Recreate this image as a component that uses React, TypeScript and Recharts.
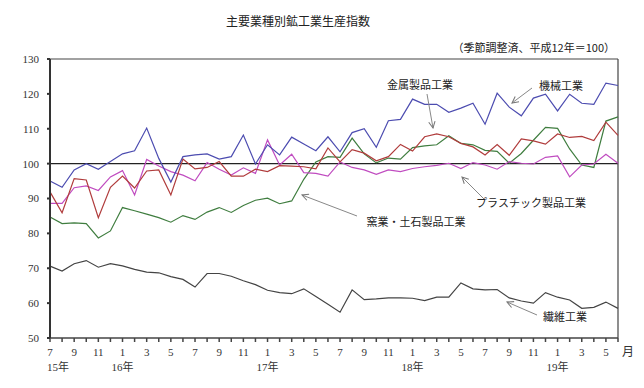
import { Line, LineChart, ReferenceLine, XAxis, YAxis } from "recharts";

// 15年7月 .. 19年6月
const months = [
  7, 8, 9, 10, 11, 12, 1, 2, 3, 4, 5, 6,
  7, 8, 9, 10, 11, 12, 1, 2, 3, 4, 5, 6,
  7, 8, 9, 10, 11, 12, 1, 2, 3, 4, 5, 6,
  7, 8, 9, 10, 11, 12, 1, 2, 3, 4, 5, 6,
];
const yearAt = [0, 6, 18, 30, 42];
const yearNames = ["15年", "16年", "17年", "18年", "19年"];
const yTicks = [50, 60, 70, 80, 90, 100, 110, 120, 130];

const machine = [
  95.0, 93.2, 98.2, 100.0, 98.4, 100.6, 102.8, 103.7, 110.2, 101.5, 94.7, 102.0,
  102.5, 102.8, 101.3, 102.0, 108.2, 99.9, 105.4, 102.5, 107.6, 105.6, 103.7, 107.7,
  103.4, 108.9, 110.0, 104.7, 112.3, 112.7, 118.5, 117.0, 117.0, 114.7, 115.9, 117.3,
  111.3, 120.2, 116.2, 113.7, 118.8, 119.9, 115.1, 119.9, 117.3, 117.0, 123.1, 122.4,
];
const metal = [
  91.9, 85.9, 95.7, 95.3, 84.5, 93.2, 96.4, 93.0, 97.9, 98.2, 91.0, 101.3,
  98.5, 98.9, 100.6, 96.4, 96.4, 98.4, 97.7, 99.4, 99.3, 99.1, 98.5, 104.5,
  100.5, 104.0, 103.0, 100.8, 102.0, 105.5, 103.6, 107.7, 108.5, 107.7, 105.8, 104.8,
  102.5, 105.5, 102.4, 107.1, 106.5, 105.6, 108.5, 107.5, 107.8, 106.6, 111.9, 108.1,
];
const plastic = [
  88.6, 88.6, 93.1, 93.6, 92.3, 96.2, 98.0, 91.0, 101.2, 99.3, 97.7, 96.7,
  95.1, 100.3, 98.4, 96.7, 98.8, 97.2, 106.8, 99.6, 102.7, 97.4, 97.2, 96.4,
  100.5, 98.9, 98.2, 96.9, 98.2, 97.7, 98.6, 99.1, 99.5, 100.1, 98.6, 100.3,
  99.6, 98.4, 100.6, 100.1, 99.9, 101.8, 102.2, 96.2, 99.6, 99.9, 102.7, 100.1,
];
const ceramic = [
  84.7, 82.8, 83.0, 82.8, 78.7, 80.7, 87.4, 86.5, 85.5, 84.5, 83.2, 85.1,
  84.0, 86.1, 87.4, 86.0, 88.0, 89.5, 90.1, 88.5, 89.3, 95.5, 100.5, 102.0,
  101.8, 107.3, 102.8, 100.2, 101.6, 101.3, 104.6, 105.1, 105.4, 108.0, 105.8, 105.4,
  103.8, 103.5, 100.1, 102.9, 106.7, 110.4, 110.1, 104.2, 99.6, 98.9, 112.2, 113.4,
];
const textile = [
  70.6, 69.2, 71.3, 72.2, 70.3, 71.3, 70.7, 69.7, 68.9, 68.7, 67.6, 66.8,
  64.6, 68.5, 68.5, 67.7, 66.4, 65.3, 63.7, 63.0, 62.7, 64.1, 61.9, 59.7,
  57.4, 63.8, 61.0, 61.2, 61.5, 61.5, 61.4, 60.7, 61.7, 61.7, 65.8, 64.1,
  63.8, 63.9, 61.5, 60.6, 60.0, 63.0, 61.7, 60.9, 58.5, 58.8, 60.3, 58.5,
];

const data = months.map((m, i) => ({
  i,
  m,
  machine: machine[i],
  metal: metal[i],
  plastic: plastic[i],
  ceramic: ceramic[i],
  textile: textile[i],
}));
const xTicks = data.map((d) => d.i);

const NUM_FONT = "'Liberation Serif', 'Noto Sans CJK JP', serif";
const JP_FONT = "'Noto Sans CJK JP', sans-serif";

function MonthTick(props: any) {
  const { x, y, payload } = props;
  const i = payload.value as number;
  const yi = yearAt.indexOf(i);
  return (
    <g fontFamily={NUM_FONT} fill="#333">
      {i % 2 === 0 && (
        <text x={x} y={y + 12} textAnchor="middle" fontSize={11} fill="#333">
          {months[i]}
        </text>
      )}
      {yi >= 0 && (
        <text x={i === 0 ? x + 8 : x} y={y + 27} textAnchor="middle" fontSize={11} fill="#333">
          {yearNames[yi]}
        </text>
      )}
      {i === months.length - 1 && (
        <text x={x + 10} y={y + 12} textAnchor="middle" fontSize={12} fontFamily={JP_FONT} fill="#333">
          月
        </text>
      )}
    </g>
  );
}

const notes = [
  { text: "金属製品工業", tx: 420, ty: 89, from: [427, 94], to: [433, 128] },
  { text: "機械工業", tx: 561, ty: 90, from: [532, 88], to: [512, 103] },
  { text: "プラスチック製品工業", tx: 531, ty: 207, from: [484, 199], to: [462, 177] },
  { text: "窯業・土石製品工業", tx: 416, ty: 226, from: [357, 216], to: [302, 195] },
  { text: "繊維工業", tx: 565, ty: 321, from: [537, 315], to: [507, 302] },
];

export default function App() {
  return (
    <div style={{ position: "absolute", left: 0, top: 0, width: 644, height: 388, background: "#fff" }}>
      <LineChart width={644} height={388} data={data} margin={{ top: 59, right: 26, bottom: 0, left: 0 }}>
        <XAxis
          dataKey="i"
          type="number"
          domain={[0, 47]}
          ticks={xTicks}
          interval={0}
          height={50}
          tickSize={4}
          tick={<MonthTick />}
          stroke="#444"
          strokeWidth={1.5}
        />
        <YAxis
          type="number"
          domain={[50, 130]}
          ticks={yTicks}
          width={50}
          tickSize={3}
          tickMargin={8}
          stroke="#333"
          strokeWidth={2}
          tick={{ fontSize: 11, fill: "#333", fontFamily: NUM_FONT }}
        />
        <ReferenceLine y={130} stroke="#444" strokeWidth={1.2} />
        <ReferenceLine x={47} stroke="#444" strokeWidth={1.2} />
        <ReferenceLine y={100} stroke="#222" strokeWidth={1.2} />
        <Line dataKey="textile" stroke="#444444" strokeWidth={1.2} dot={false} isAnimationActive={false} />
        <Line dataKey="ceramic" stroke="#3f7d3f" strokeWidth={1.2} dot={false} isAnimationActive={false} />
        <Line dataKey="plastic" stroke="#c04cc0" strokeWidth={1.2} dot={false} isAnimationActive={false} />
        <Line dataKey="metal" stroke="#b03c3c" strokeWidth={1.2} dot={false} isAnimationActive={false} />
        <Line dataKey="machine" stroke="#4c4cb0" strokeWidth={1.2} dot={false} isAnimationActive={false} />
      </LineChart>
      <svg width={644} height={388} style={{ position: "absolute", left: 0, top: 0, pointerEvents: "none" }}>
        <defs>
          <marker id="ah" viewBox="0 0 10 10" refX="9" refY="5" markerWidth="8" markerHeight="8" orient="auto">
            <path d="M1,1 L9,5 L1,9" fill="none" stroke="#777" strokeWidth="1.3" />
          </marker>
        </defs>
        <text x={298} y={26} textAnchor="middle" fontSize={12} fontFamily={JP_FONT} fill="#222">
          主要業種別鉱工業生産指数
        </text>
        <text x={615} y={52} textAnchor="end" fontSize={11} fontFamily={JP_FONT} fill="#222">
          （季節調整済、平成12年＝100）
        </text>
        {notes.map((n) => (
          <g key={n.text}>
            <line x1={n.from[0]} y1={n.from[1]} x2={n.to[0]} y2={n.to[1]} stroke="#888" strokeWidth={1} markerEnd="url(#ah)" />
            <text x={n.tx} y={n.ty} textAnchor="middle" fontSize={11} fontFamily={JP_FONT} fill="#222">
              {n.text}
            </text>
          </g>
        ))}
      </svg>
    </div>
  );
}
